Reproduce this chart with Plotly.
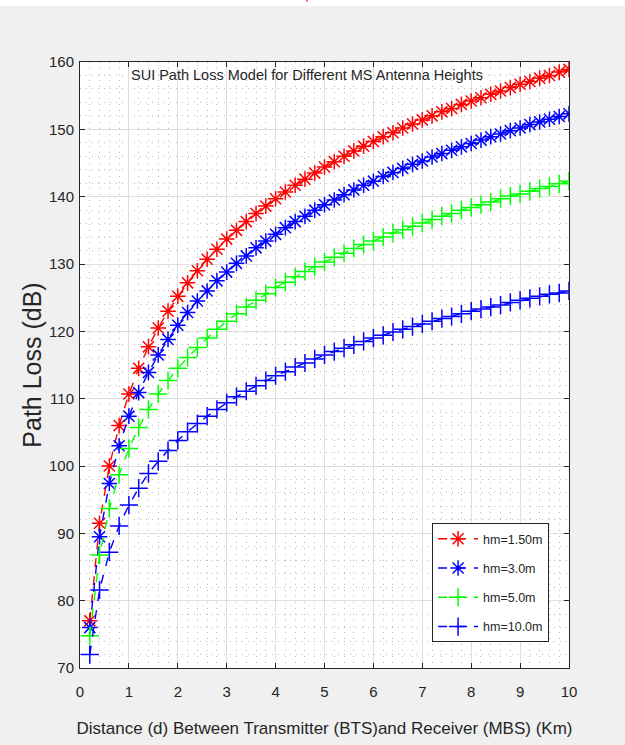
import plotly.graph_objects as go

# Distance between BTS and MS in km (0.2 km steps)
distance_km = [round(0.2 * k, 1) for k in range(1, 51)]

# Path loss (dB) for each MS antenna height
pl_hm_1_5 = [77.0, 91.5, 100.0, 106.0, 110.7, 114.5, 117.7, 120.5, 123.0, 125.2,
             127.2, 129.0, 130.7, 132.2, 133.7, 135.0, 136.3, 137.5, 138.6, 139.7,
             140.7, 141.7, 142.6, 143.5, 144.4, 145.2, 146.0, 146.8, 147.5, 148.2,
             148.9, 149.5, 150.2, 150.8, 151.4, 152.0, 152.6, 153.1, 153.7, 154.2,
             154.7, 155.2, 155.7, 156.2, 156.7, 157.1, 157.6, 158.0, 158.5, 158.9]
pl_hm_3_0 = [76.0, 89.5, 97.4, 103.0, 107.4, 110.9, 113.9, 116.5, 118.8, 120.9,
             122.8, 124.5, 126.0, 127.5, 128.8, 130.1, 131.2, 132.4, 133.4, 134.4,
             135.4, 136.3, 137.1, 138.0, 138.8, 139.5, 140.3, 141.0, 141.7, 142.3,
             143.0, 143.6, 144.2, 144.8, 145.3, 145.9, 146.4, 146.9, 147.4, 147.9,
             148.4, 148.9, 149.3, 149.8, 150.2, 150.7, 151.1, 151.5, 151.9, 152.3]
pl_hm_5_0 = [74.8, 86.8, 93.7, 98.7, 102.6, 105.7, 108.4, 110.7, 112.7, 114.5,
             116.1, 117.6, 119.0, 120.3, 121.5, 122.6, 123.6, 124.6, 125.6, 126.5,
             127.3, 128.1, 128.9, 129.6, 130.3, 131.0, 131.6, 132.3, 132.9, 133.4,
             134.0, 134.6, 135.1, 135.6, 136.1, 136.6, 137.1, 137.5, 138.0, 138.4,
             138.8, 139.2, 139.7, 140.1, 140.4, 140.8, 141.2, 141.5, 141.9, 142.3]
pl_hm_10_0 = [72.0, 81.6, 87.2, 91.1, 94.2, 96.7, 98.9, 100.7, 102.3, 103.8,
              105.1, 106.3, 107.4, 108.4, 109.4, 110.3, 111.1, 111.9, 112.7, 113.4,
              114.0, 114.7, 115.3, 115.9, 116.5, 117.0, 117.5, 118.0, 118.5, 119.0,
              119.4, 119.9, 120.3, 120.7, 121.1, 121.5, 121.9, 122.2, 122.6, 123.0,
              123.3, 123.6, 123.9, 124.3, 124.6, 124.9, 125.2, 125.5, 125.7, 126.0]

series_names = ["hm=1.50m", "hm=3.0m", "hm=5.0m", "hm=10.0m"]
series_values = [pl_hm_1_5, pl_hm_3_0, pl_hm_5_0, pl_hm_10_0]
series_colors = ["#ff0000", "#0000ff", "#00ff00", "#0000ff"]
series_symbols = ["asterisk-open", "asterisk-open", "cross-thin-open", "cross-thin-open"]

x_ticks = list(range(0, 11))
y_ticks = list(range(70, 161, 10))

FONT = "Liberation Sans, Arial, sans-serif"
TXT = "#262626"

fig = go.Figure()
for i, (name, vals, col, sym) in enumerate(zip(series_names, series_values,
                                                series_colors, series_symbols)):
    fig.add_trace(go.Scatter(
        x=distance_km, y=vals, name=name, mode="lines+markers",
        legendgroup=f"g{i}",
        line=dict(color=col, width=1.4, dash="dash"),
        marker=dict(symbol=sym, size=13, color=col, line=dict(color=col, width=1.5)),
    ))

axis_common = dict(
    showline=True, linecolor=TXT, linewidth=1, mirror="ticks",
    ticks="inside", ticklen=5, tickcolor=TXT, tickwidth=1,
    showgrid=True, gridcolor="#dedede", gridwidth=1,
    zeroline=False, automargin=False,
    tickfont=dict(family=FONT, size=15, color=TXT),
)

fig.update_xaxes(
    range=[0, 10], tickvals=x_ticks, ticklabelstandoff=10,
    minor=dict(dtick=0.2, showgrid=True, gridcolor="#bcbcbc", griddash="1px,5px",
               gridwidth=1, ticks=""),
    title=dict(text="Distance (d) Between Transmitter (BTS)and Receiver (MBS) (Km)",
               font=dict(family=FONT, size=17, color=TXT), standoff=23),
    **axis_common,
)
fig.update_yaxes(
    range=[70, 160], tickvals=y_ticks, ticklabelstandoff=2,
    minor=dict(dtick=2, showgrid=True, gridcolor="#bcbcbc", griddash="1px,5px",
               gridwidth=1, ticks=""),
    title=dict(text="Path Loss (dB)",
               font=dict(family=FONT, size=25, color=TXT), standoff=0),
    **axis_common,
)

fig.update_layout(
    width=625, height=745,
    margin=dict(l=80, r=56, t=62, b=77),
    paper_bgcolor="#f0f0f0", plot_bgcolor="#ffffff",
    showlegend=True,
    legend=dict(
        x=0.72, y=0.239, xanchor="left", yanchor="top",
        bgcolor="#ffffff", bordercolor="#262626", borderwidth=1,
        font=dict(family=FONT, size=12.5, color=TXT),
        tracegroupgap=10, itemwidth=40,
    ),
    annotations=[dict(
        text="SUI Path Loss Model for Different MS Antenna Heights",
        xref="paper", yref="paper", x=0.464, y=0.995, xanchor="center", yanchor="top",
        showarrow=False, font=dict(family=FONT, size=14.5, color=TXT),
    )],
    shapes=[
        dict(type="rect", xref="paper", yref="paper", x0=-0.2, x1=1.2,
             y0=1.0924, y1=1.11, fillcolor="#ffffff", line=dict(width=0), layer="below"),
        dict(type="line", xref="paper", yref="paper", x0=0.464, x1=0.464,
             y0=1.0995, y1=1.11, line=dict(color="#ff4040", width=1.5)),
    ],
)

fig.write_html("out.html")
